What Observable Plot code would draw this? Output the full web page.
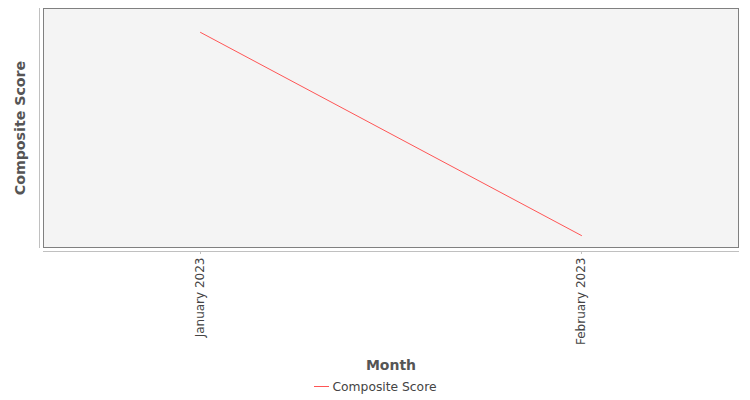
<!DOCTYPE html>
<html>
<head>
<meta charset="utf-8">
<script src="https://cdn.jsdelivr.net/npm/d3@7"></script>
<script src="https://cdn.jsdelivr.net/npm/@observablehq/plot@0.6"></script>
<style>
  body { margin: 0; background: #fff; font-family: "DejaVu Sans", sans-serif; }
  #chart { position: relative; width: 750px; height: 400px; }
  #legend { position: absolute; left: 0; width: 750px; top: 380px; text-align: center; font-size: 12.3px; color: #444; }
  #legend .sw { display: inline-block; width: 15px; height: 0; border-top: 1px solid #ff5555; vertical-align: middle; margin-right: 4px; position: relative; top: -1px; }
</style>
</head>
<body>
<div id="chart"></div>
<script>
const months = ["January 2023", "February 2023"];
const scores = [90, 5];
const seriesName = "Composite Score";

const data = months.map((m, i) => ({month: m, score: scores[i]}));

const plot = Plot.plot({
  width: 750,
  height: 375,
  marginLeft: 43,
  marginRight: 12,
  marginTop: 8,
  marginBottom: 128,
  style: {fontFamily: "DejaVu Sans, sans-serif", color: "#444", background: "transparent"},
  x: {type: "point", domain: months, padding: 0.41},
  y: {domain: [0, 100]},
  marks: [
    Plot.frame({fill: "#f4f4f4", stroke: "#808080"}),
    Plot.frame({anchor: "left", dx: -4, stroke: "#c0c0c0"}),
    Plot.frame({anchor: "bottom", dy: 4, stroke: "#c0c0c0"}),
    Plot.axisY({ticks: [], tickSize: 0, label: null}),
    Plot.text([seriesName], {frameAnchor: "left", textAnchor: "middle", dx: -23, rotate: -90, fontSize: 14.2, fontWeight: "bold", fill: "#555"}),
    Plot.axisX({tickRotate: -90, tickSize: 3, dy: 4, tickPadding: 3, fontSize: 12, stroke: "#c0c0c0", label: null}),
    Plot.text(["Month"], {frameAnchor: "bottom", dy: 122, fontSize: 14, fontWeight: "bold", fill: "#555"}),
    Plot.line(data, {x: "month", y: "score", stroke: "#ff5555", strokeWidth: 1})
  ]
});
document.getElementById("chart").appendChild(plot);
const lg = document.createElement("div");
lg.id = "legend";
lg.innerHTML = '<span class="sw"></span>' + seriesName;
document.getElementById("chart").appendChild(lg);
</script>
</body>
</html>
